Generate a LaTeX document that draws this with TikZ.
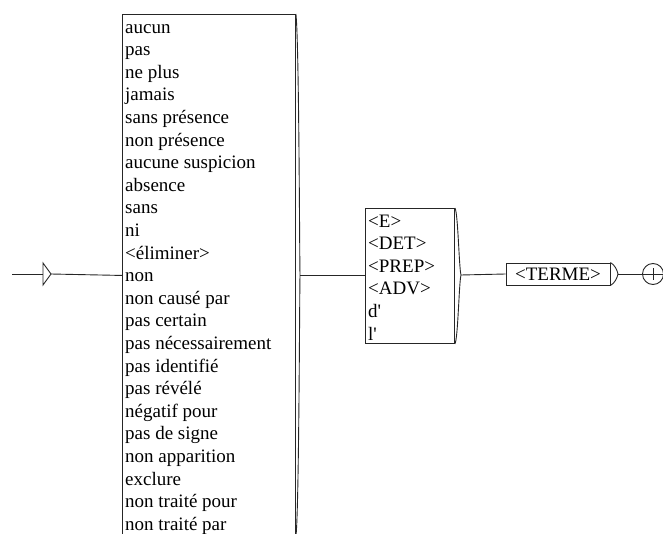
\documentclass[tikz,border=0pt]{standalone}
\usepackage{fontspec}
\setmainfont{Liberation Serif}
\begin{document}
\begin{tikzpicture}[x=1pt,y=-1pt,
  lw/.style={line width=0.9pt, draw=black!85},
  boxtxt/.style={anchor=base west, align=left, inner sep=0pt,
    font=\fontsize{19}{22.6}\selectfont},
  gbox/.style={lw, anchor=north west, inner sep=0pt}]
\useasboundingbox (0,0) rectangle (663,534);
\clip (0,0) rectangle (663,534);
% initial state
\coordinate (start) at (12,274);
\coordinate (initback) at (43,274);
\coordinate (init) at (51,274);
\draw[lw] (start) -- (initback);
\draw[lw] (43,263) -- (init) -- (43,285) -- cycle;
% big box (text anchored at the baseline of its last line)
\node[gbox, minimum width=173pt, minimum height=522pt] (listbox) at (122,14) {};
\node[boxtxt] (listtxt) at (125,530.2) {aucun\\pas\\ne plus\\jamais\\sans présence\\non présence\\aucune suspicion\\absence\\sans\\ni\\<éliminer>\\non\\non causé par\\pas certain\\pas nécessairement\\pas identifié\\pas révélé\\négatif pour\\pas de signe\\non apparition\\exclure\\non traité pour\\non traité par};
\coordinate (listtip) at (300,275);
\draw[lw] (listbox.north east) .. controls (299,40) and (299.5,250) .. (listtip)
  .. controls (299.5,300) and (299,510) .. (listbox.south east);
% small box
\node[gbox, minimum width=89pt, minimum height=135pt] (detbox) at (365,208) {};
\node[boxtxt] (dettxt) at (368,340) {<E>\\<DET>\\<PREP>\\<ADV>\\d\textquotesingle\\l\textquotesingle};
\coordinate (dettip) at (461,275);
\draw[lw] (detbox.north east) .. controls (458,212) and (459,268) .. (dettip)
  .. controls (459,282) and (458,339) .. (detbox.south east);
% TERME box
\node[lw, draw, minimum width=104pt, minimum height=22pt, inner sep=0pt,
  font=\fontsize{19}{22.6}\selectfont] (terme) at (558,274) {<TERME>};
\coordinate (termetip) at (618,274);
\draw[lw] (terme.north east) .. controls (615,265) and (617,270) .. (termetip)
  .. controls (617,278) and (615,283) .. (terme.south east);
% final state
\node[lw, draw, circle, minimum size=21pt, inner sep=0pt] (final) at (653,274) {};
\draw[lw] (final.west) -- (final.east);
\draw[lw] ([yshift=-5pt]final.north) -- ([yshift=5pt]final.south);
% connectors
\draw[lw] (init) -- (listbox.west);
\draw[lw] (listtip) -- (detbox.west |- listtip);
\draw[lw] (dettip) -- (terme.west);
\draw[lw] (termetip) -- (final.west);
\end{tikzpicture}
\end{document}
